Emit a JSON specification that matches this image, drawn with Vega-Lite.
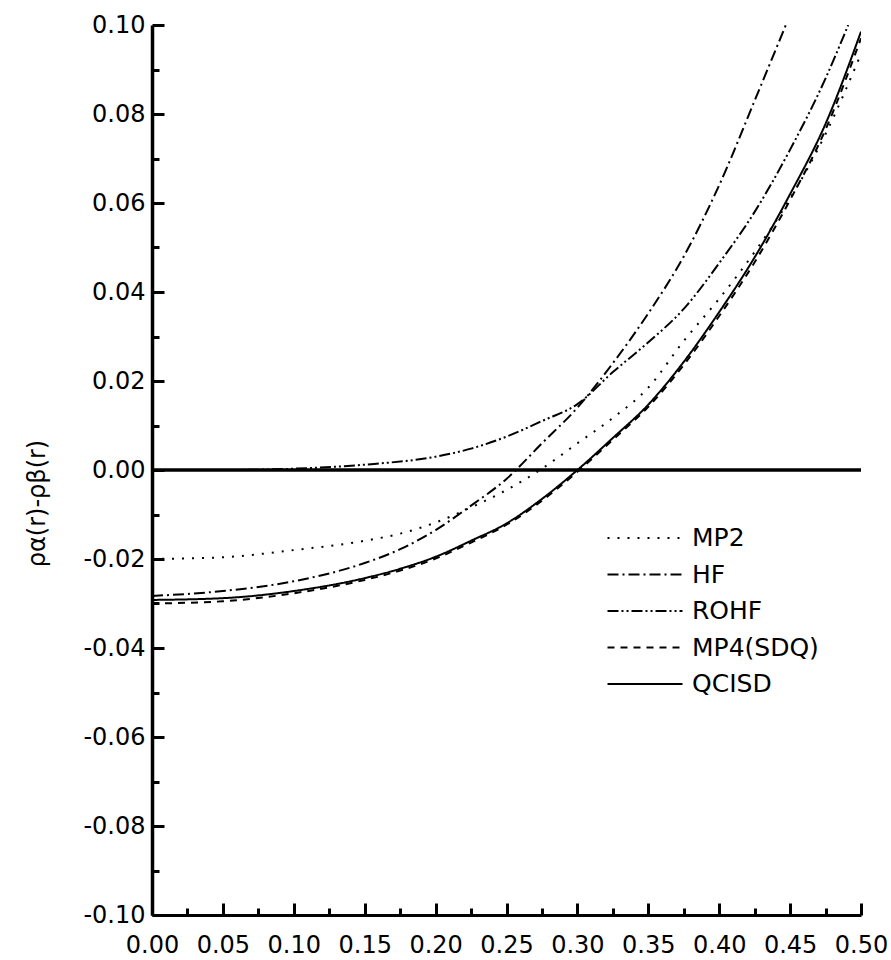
{
  "$schema": "https://vega.github.io/schema/vega-lite/v6.json",
  "width": 709,
  "height": 890,
  "autosize": {"type": "none"},
  "padding": {"left": 152, "top": 25, "right": 30, "bottom": 45},
  "background": "white",
  "config": {
    "view": {"stroke": null},
    "font": "DejaVu Sans",
    "axis": {"labelFont": "DejaVu Sans", "labelFontWeight": "normal", "labelColor": "black", "titleColor": "black", "domainColor": "black", "tickColor": "black", "grid": false}
  },
  "datasets": {
    "zero": [{"level": 0}],
    "curves": [
      {"method": "MP2", "r": 0.0, "rho": -0.0200},
      {"method": "MP2", "r": 0.05, "rho": -0.0196},
      {"method": "MP2", "r": 0.10, "rho": -0.0180},
      {"method": "MP2", "r": 0.15, "rho": -0.0159},
      {"method": "MP2", "r": 0.175, "rho": -0.0143},
      {"method": "MP2", "r": 0.20, "rho": -0.0118},
      {"method": "MP2", "r": 0.225, "rho": -0.0084},
      {"method": "MP2", "r": 0.25, "rho": -0.0045},
      {"method": "MP2", "r": 0.275, "rho": 0.0003},
      {"method": "MP2", "r": 0.30, "rho": 0.0060},
      {"method": "MP2", "r": 0.325, "rho": 0.0117},
      {"method": "MP2", "r": 0.35, "rho": 0.0185},
      {"method": "MP2", "r": 0.375, "rho": 0.0290},
      {"method": "MP2", "r": 0.40, "rho": 0.0385},
      {"method": "MP2", "r": 0.425, "rho": 0.0490},
      {"method": "MP2", "r": 0.45, "rho": 0.0610},
      {"method": "MP2", "r": 0.475, "rho": 0.0755},
      {"method": "MP2", "r": 0.50, "rho": 0.0935},

      {"method": "HF", "r": 0.0, "rho": -0.0283},
      {"method": "HF", "r": 0.05, "rho": -0.0272},
      {"method": "HF", "r": 0.10, "rho": -0.0250},
      {"method": "HF", "r": 0.15, "rho": -0.0209},
      {"method": "HF", "r": 0.175, "rho": -0.0178},
      {"method": "HF", "r": 0.20, "rho": -0.0135},
      {"method": "HF", "r": 0.225, "rho": -0.0080},
      {"method": "HF", "r": 0.25, "rho": -0.0020},
      {"method": "HF", "r": 0.275, "rho": 0.0060},
      {"method": "HF", "r": 0.30, "rho": 0.0140},
      {"method": "HF", "r": 0.325, "rho": 0.0240},
      {"method": "HF", "r": 0.35, "rho": 0.0352},
      {"method": "HF", "r": 0.375, "rho": 0.0480},
      {"method": "HF", "r": 0.40, "rho": 0.0640},
      {"method": "HF", "r": 0.425, "rho": 0.0830},
      {"method": "HF", "r": 0.447, "rho": 0.1000},

      {"method": "ROHF", "r": 0.0, "rho": 0.0},
      {"method": "ROHF", "r": 0.05, "rho": 0.0},
      {"method": "ROHF", "r": 0.10, "rho": 0.0003},
      {"method": "ROHF", "r": 0.15, "rho": 0.0012},
      {"method": "ROHF", "r": 0.20, "rho": 0.0030},
      {"method": "ROHF", "r": 0.225, "rho": 0.0048},
      {"method": "ROHF", "r": 0.25, "rho": 0.0075},
      {"method": "ROHF", "r": 0.275, "rho": 0.0110},
      {"method": "ROHF", "r": 0.30, "rho": 0.0148},
      {"method": "ROHF", "r": 0.325, "rho": 0.0220},
      {"method": "ROHF", "r": 0.35, "rho": 0.0287},
      {"method": "ROHF", "r": 0.375, "rho": 0.0362},
      {"method": "ROHF", "r": 0.40, "rho": 0.0465},
      {"method": "ROHF", "r": 0.425, "rho": 0.0580},
      {"method": "ROHF", "r": 0.45, "rho": 0.0720},
      {"method": "ROHF", "r": 0.475, "rho": 0.0880},
      {"method": "ROHF", "r": 0.491, "rho": 0.1000},

      {"method": "MP4(SDQ)", "r": 0.0, "rho": -0.0300},
      {"method": "MP4(SDQ)", "r": 0.05, "rho": -0.0295},
      {"method": "MP4(SDQ)", "r": 0.10, "rho": -0.0277},
      {"method": "MP4(SDQ)", "r": 0.15, "rho": -0.0247},
      {"method": "MP4(SDQ)", "r": 0.175, "rho": -0.0226},
      {"method": "MP4(SDQ)", "r": 0.20, "rho": -0.0199},
      {"method": "MP4(SDQ)", "r": 0.225, "rho": -0.0163},
      {"method": "MP4(SDQ)", "r": 0.25, "rho": -0.0123},
      {"method": "MP4(SDQ)", "r": 0.275, "rho": -0.0069},
      {"method": "MP4(SDQ)", "r": 0.30, "rho": -0.0004},
      {"method": "MP4(SDQ)", "r": 0.325, "rho": 0.0068},
      {"method": "MP4(SDQ)", "r": 0.35, "rho": 0.0142},
      {"method": "MP4(SDQ)", "r": 0.375, "rho": 0.0236},
      {"method": "MP4(SDQ)", "r": 0.40, "rho": 0.0346},
      {"method": "MP4(SDQ)", "r": 0.425, "rho": 0.0467},
      {"method": "MP4(SDQ)", "r": 0.45, "rho": 0.0607},
      {"method": "MP4(SDQ)", "r": 0.475, "rho": 0.0765},
      {"method": "MP4(SDQ)", "r": 0.50, "rho": 0.0970},

      {"method": "QCISD", "r": 0.0, "rho": -0.0292},
      {"method": "QCISD", "r": 0.05, "rho": -0.0288},
      {"method": "QCISD", "r": 0.10, "rho": -0.0272},
      {"method": "QCISD", "r": 0.15, "rho": -0.0243},
      {"method": "QCISD", "r": 0.175, "rho": -0.0222},
      {"method": "QCISD", "r": 0.20, "rho": -0.0195},
      {"method": "QCISD", "r": 0.225, "rho": -0.0159},
      {"method": "QCISD", "r": 0.25, "rho": -0.0120},
      {"method": "QCISD", "r": 0.275, "rho": -0.0065},
      {"method": "QCISD", "r": 0.30, "rho": 0.0000},
      {"method": "QCISD", "r": 0.325, "rho": 0.0072},
      {"method": "QCISD", "r": 0.35, "rho": 0.0147},
      {"method": "QCISD", "r": 0.375, "rho": 0.0243},
      {"method": "QCISD", "r": 0.40, "rho": 0.0355},
      {"method": "QCISD", "r": 0.425, "rho": 0.0478},
      {"method": "QCISD", "r": 0.45, "rho": 0.0620},
      {"method": "QCISD", "r": 0.475, "rho": 0.0778},
      {"method": "QCISD", "r": 0.50, "rho": 0.0985}
    ]
  },
  "layer": [
    {
      "data": {"name": "curves"},
      "mark": {"type": "line", "color": "black", "strokeWidth": 2, "interpolate": "monotone", "clip": true},
      "encoding": {
        "x": {
          "field": "r", "type": "quantitative",
          "scale": {"domain": [0, 0.5], "nice": false, "zero": false},
          "axis": {
            "title": null,
            "values": [0, 0.025, 0.05, 0.075, 0.1, 0.125, 0.15, 0.175, 0.2, 0.225, 0.25, 0.275, 0.3, 0.325, 0.35, 0.375, 0.4, 0.425, 0.45, 0.475, 0.5],
            "labelExpr": "abs(datum.value*20 - round(datum.value*20)) < 0.001 ? format(datum.value, '.2f') : ''",
            "tickSize": {"condition": {"test": "abs(datum.value*20 - round(datum.value*20)) < 0.001", "value": -12}, "value": -7},
            "tickWidth": 3,
            "domainWidth": 3,
            "labelFontSize": 24,
            "labelPadding": 30,
            "labelFlush": false,
            "labelOverlap": false,
            "labelBound": false
          }
        },
        "y": {
          "field": "rho", "type": "quantitative",
          "scale": {"domain": [-0.1, 0.1], "nice": false, "zero": false},
          "axis": {
            "title": "ρα(r)-ρβ(r)",
            "titleFont": "DejaVu Sans",
            "titleFontSize": 24,
            "titleFontWeight": "normal",
            "titleAngle": -90,
            "titleAlign": "center",
            "titleBaseline": "middle",
            "titleX": -115,
            "titleY": 478,
            "values": [-0.1, -0.09, -0.08, -0.07, -0.06, -0.05, -0.04, -0.03, -0.02, -0.01, 0, 0.01, 0.02, 0.03, 0.04, 0.05, 0.06, 0.07, 0.08, 0.09, 0.1],
            "labelExpr": "abs(datum.value*50 - round(datum.value*50)) < 0.001 ? (datum.value < -0.0001 ? '-' + format(-datum.value, '.2f') : format(abs(datum.value), '.2f')) : ''",
            "tickSize": {"condition": {"test": "abs(datum.value*50 - round(datum.value*50)) < 0.001", "value": -12}, "value": -7},
            "tickWidth": 3,
            "domainWidth": 3.5,
            "labelFontSize": 24,
            "labelPadding": 19,
            "labelFlush": false,
            "labelOverlap": false,
            "labelBound": false
          }
        },
        "strokeDash": {
          "field": "method", "type": "nominal",
          "scale": {
            "domain": ["MP2", "HF", "ROHF", "MP4(SDQ)", "QCISD"],
            "range": [[2, 8], [11, 4, 2, 4], [11, 3, 2, 3, 2, 3], [7, 6], [1, 0]]
          },
          "legend": {
            "orient": "none",
            "legendX": 477,
            "legendY": 497,
            "title": null,
            "symbolType": "M-2.5,0H2.5",
            "symbolSize": 900,
            "symbolStrokeWidth": 2,
            "symbolStrokeColor": "black",
            "symbolFillColor": "transparent",
            "labelFont": "DejaVu Sans",
            "labelFontWeight": "normal",
            "labelFontSize": 25,
            "labelColor": "black",
            "labelOffset": 31,
            "rowPadding": 7.5
          }
        }
      }
    },
    {
      "data": {"name": "zero"},
      "mark": {"type": "rule", "color": "black", "strokeWidth": 3.5},
      "encoding": {
        "y": {"field": "level", "type": "quantitative"}
      }
    }
  ]
}
